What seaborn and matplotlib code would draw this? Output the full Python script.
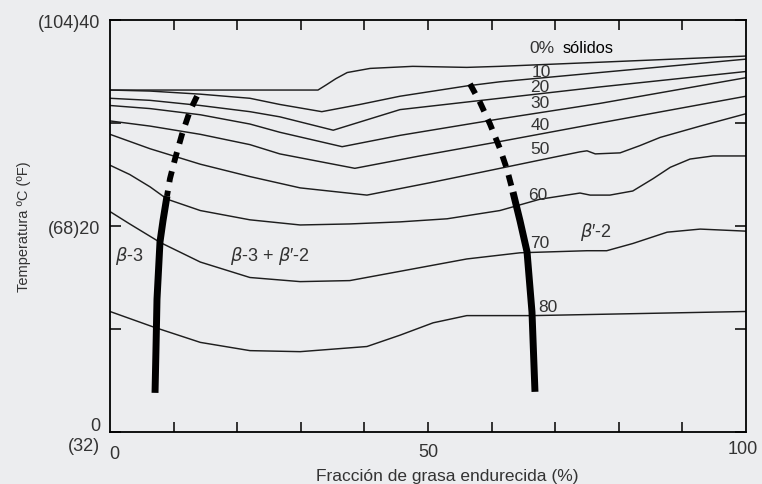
import matplotlib
matplotlib.use("Agg")
import matplotlib.pyplot as plt
import pandas as pd
import seaborn as sns

# ---------------- data ----------------
x_ticks = [0, 10, 20, 30, 40, 50, 60, 70, 80, 90, 100]
x_tick_labels = ["0", "", "", "", "", "50", "", "", "", "", "100"]
y_ticks = [0, 10, 20, 30, 40]
y_tick_labels = ["0\n(32)", "", "(68)20", "", "(104)40"]

curve_names = ["0", "10", "20", "30", "40", "50", "60", "70", "80"]

c00_x = [0, 32.7, 34.0, 35.5, 37.3, 40.9, 47.6, 56.1, 61.3, 77.0, 100]
c00_y = [33.2, 33.2, 33.7, 34.3, 34.9, 35.3, 35.5, 35.4, 35.5, 35.9, 36.5]

c10_x = [0, 6.3, 14.2, 22.0, 26.7, 33.3, 39.3, 45.6, 56.1, 61.3, 77.0, 100]
c10_y = [33.2, 33.1, 32.8, 32.4, 31.8, 31.1, 31.8, 32.6, 33.6, 34.0, 34.9, 36.2]

c20_x = [0, 6.3, 14.2, 22.0, 26.7, 35.1, 45.6, 61.3, 77.0, 100]
c20_y = [32.4, 32.2, 31.7, 31.1, 30.6, 29.3, 31.3, 32.4, 33.5, 35.0]

c30_x = [0, 6.3, 14.2, 22.0, 26.7, 36.5, 45.6, 61.3, 77.0, 100]
c30_y = [31.7, 31.4, 30.8, 29.9, 29.1, 27.7, 28.8, 30.4, 31.9, 34.4]

c40_x = [0, 6.3, 14.2, 22.0, 26.7, 38.5, 48.7, 61.3, 77.0, 100]
c40_y = [30.2, 29.7, 28.9, 27.9, 27.0, 25.6, 26.8, 28.2, 30.0, 32.6]

c50_x = [0, 6.3, 14.2, 22.0, 29.9, 40.4, 50.3, 58.2, 67.6, 73.9, 75.0, 76.3, 80.2, 83.3, 86.5, 92.8, 100]
c50_y = [28.9, 27.5, 26.0, 24.8, 23.7, 23.0, 24.2, 25.2, 26.4, 27.2, 27.3, 27.0, 27.1, 27.8, 28.6, 29.7, 30.9]

c60_x = [0, 3.1, 6.3, 9.0, 14.2, 22.0, 29.9, 37.7, 45.6, 53.0, 61.3, 67.6, 73.9, 75.5, 78.6, 82.2, 85.4, 88.1, 91.2, 94.8, 100]
c60_y = [25.9, 25.0, 23.8, 22.6, 21.5, 20.6, 20.1, 20.2, 20.4, 20.7, 21.5, 22.6, 23.2, 23.0, 23.0, 23.4, 24.6, 25.7, 26.5, 26.8, 26.8]

c70_x = [0, 3.1, 7.9, 14.2, 22.0, 29.9, 37.7, 45.6, 56.1, 64.5, 75.0, 78.1, 82.2, 87.6, 92.8, 100]
c70_y = [21.4, 20.2, 18.4, 16.5, 15.0, 14.6, 14.7, 15.6, 16.8, 17.4, 17.6, 17.6, 18.3, 19.4, 19.7, 19.5]

c80_x = [0, 6.8, 14.2, 22.0, 29.9, 40.4, 45.6, 50.8, 56.1, 66.5, 100]
c80_y = [11.7, 10.2, 8.7, 7.9, 7.8, 8.3, 9.4, 10.6, 11.3, 11.3, 11.7]

# phase boundaries (solid part and dashed part)
left_solid_x = [8.96, 8.33, 7.86, 7.39, 7.23, 7.08]
left_solid_y = [22.9, 20.5, 18.45, 12.9, 8.06, 3.8]
left_dash_x = [13.68, 12.58, 11.32, 10.22, 9.43, 8.96]
left_dash_y = [32.6, 31.2, 28.9, 26.5, 24.6, 22.9]

right_solid_x = [63.36, 64.47, 65.57, 66.35, 66.82]
right_solid_y = [23.3, 20.5, 17.5, 11.65, 3.9]
right_dash_x = [56.6, 58.18, 59.75, 61.32, 62.42, 63.36]
right_dash_y = [33.8, 32.0, 29.9, 27.5, 25.5, 23.3]

# curve labels: text, x, y (left edge, vertical centre)
label_text = ["10", "20", "30", "40", "50", "60", "70", "80"]
label_x = [66.3, 66.1, 66.1, 66.1, 66.1, 65.7, 66.0, 67.3]
label_y = [35.0, 33.5, 32.0, 29.9, 27.5, 23.1, 18.4, 12.2]

# ---------------- styling ----------------
sns.set_style("white")
plt.rcParams["font.family"] = ["Liberation Sans", "DejaVu Sans"]
BG = "#ecedef"
INK = "#1e1e1e"
TXT = "#333333"

fig = plt.figure(figsize=(7.62, 4.85), dpi=100, facecolor=BG)
ax = fig.add_axes([110 / 762, 1 - 433 / 485, 636 / 762, 412 / 485])
ax.set_facecolor(BG)

curves_x = [c00_x, c10_x, c20_x, c30_x, c40_x, c50_x, c60_x, c70_x, c80_x]
curves_y = [c00_y, c10_y, c20_y, c30_y, c40_y, c50_y, c60_y, c70_y, c80_y]
frames = []
for name, xs, ys in zip(curve_names, curves_x, curves_y):
    frames.append(pd.DataFrame({"x": xs, "y": ys, "curve": name}))
df = pd.concat(frames, ignore_index=True)

for name in curve_names:
    sub = df[df["curve"] == name]
    sns.lineplot(data=sub, x="x", y="y", sort=False, estimator=None,
                 color=INK, lw=1.05, ax=ax)

def boundary(xs, ys, dashed):
    d = pd.DataFrame({"x": xs, "y": ys})
    sns.lineplot(data=d, x="x", y="y", sort=False, estimator=None,
                 color="black", lw=5.0 if not dashed else 4.2, ax=ax)
    ln = ax.lines[-1]
    ln.set_solid_capstyle("butt")
    ln.set_dash_capstyle("butt")
    if dashed:
        ln.set_linestyle((0, (1.9, 1.5)))

boundary(left_solid_x, left_solid_y, False)
boundary(left_dash_x, left_dash_y, True)
boundary(right_solid_x, right_solid_y, False)
boundary(right_dash_x, right_dash_y, True)

# labels
for t, lx, ly in zip(label_text, label_x, label_y):
    ax.text(lx, ly, t, fontsize=12.5, color=TXT, ha="left", va="center")
ax.text(66.0, 37.3, "0%", fontsize=12.5, color=TXT, ha="left", va="center")
ax.text(71.2, 37.3, "sólidos", fontsize=11.8, color="black", ha="left", va="center")

ax.text(0.8, 17.2, r"$\beta$-3", fontsize=13, color=TXT, ha="left", va="center")
ax.text(18.9, 17.2, r"$\beta$-3 + $\beta$′-2", fontsize=13, color=TXT, ha="left", va="center")
ax.text(73.9, 19.5, r"$\beta$′-2", fontsize=13, color=TXT, ha="left", va="center")

# axes
ax.set_xlim(0, 100)
ax.set_ylim(0, 40)
ax.set_xticks(x_ticks[1:-1])
ax.set_xticklabels(x_tick_labels[1:-1])
ax.set_yticks(y_ticks)
ax.set_yticklabels(y_tick_labels, ha="right")
ax.tick_params(axis="x", direction="in", length=7, width=1.1, top=True, bottom=True,
               labelsize=13, colors="black", labelcolor=TXT, pad=8)
ax.tick_params(axis="y", direction="in", length=8, width=1.1, left=True, right=True,
               labelsize=13, colors="black", labelcolor=TXT, pad=7)
# x tick labels at 0 and 100 placed as text at the corners
ax.text(0.6, -2.1, x_tick_labels[0], fontsize=13, color=TXT, ha="center", va="center")
ax.text(99.5, -1.6, x_tick_labels[-1], fontsize=13, color=TXT, ha="center", va="center")
for s in ax.spines.values():
    s.set_visible(True)
    s.set_color("black")
    s.set_linewidth(1.3)

ax.set_xlabel("Fracción de grasa endurecida (%)", fontsize=12.5, color=TXT)
ax.set_ylabel("Temperatura ºC (ºF)", fontsize=10.5, color=TXT)
ax.xaxis.set_label_coords(0.53, -0.087)
ax.yaxis.set_label_coords(-0.125, 0.5)

fig.savefig("out.png", dpi=100, facecolor=BG)
